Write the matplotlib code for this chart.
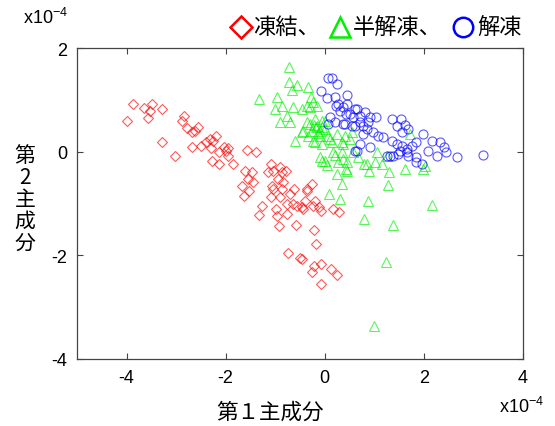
import matplotlib
matplotlib.use("Agg")
import matplotlib.pyplot as plt
from matplotlib.lines import Line2D

plt.rcParams['font.family'] = ['Liberation Sans', 'Noto Sans CJK JP', 'DejaVu Sans']
plt.rcParams['axes.unicode_minus'] = False
plt.rcParams['mathtext.default'] = 'regular'

# values, in units of 1e-4
frozen_x = [-3.87, -3.99, -3.65, -3.49, -3.53, -3.57, -3.29, -2.84, -2.88, -2.78,
            -2.56, -2.68, -2.62, -3.29, -3.02, -2.68, -2.50, -2.40, -2.32, -2.20,
            -2.26, -2.30, -2.14, -2.04, -1.96, -2.00, -2.28, -2.14, -1.96, -1.85,
            -1.57, -1.39, -1.61, -1.47, -1.55, -1.45, -1.67, -1.53, -1.63, -1.09,
            -1.15, -1.05, -0.91, -0.87, -0.79, -0.95, -0.85, -1.07, -1.05, -0.87,
            -0.63, -0.71, -1.09, -0.91, -0.77, -0.65, -0.56, -0.46, -0.40, -0.36,
            -0.26, -0.36, -0.20, -0.24, -0.12, -0.08, -1.27, -1.33, -0.99, -0.97,
            -0.93, -0.77, -0.58, -0.22, -0.18, -0.75, -0.50, -0.22, -0.08, -0.26,
            0.12, 0.24, -0.08, -0.44, 0.16, 0.28, -0.46]
frozen_y = [0.92, 0.59, 0.84, 0.92, 0.78, 0.65, 0.82, 0.69, 0.59, 0.46,
            0.47, 0.38, 0.40, 0.19, -0.08, 0.09, 0.11, 0.19, 0.24, 0.30,
            0.20, 0.07, -0.01, 0.09, 0.07, 0.01, -0.18, -0.24, -0.08, -0.24,
            0.03, -0.01, -0.37, -0.39, -0.53, -0.59, -0.66, -0.76, -0.86, -0.24,
            -0.39, -0.37, -0.30, -0.39, -0.37, -0.53, -0.59, -0.66, -0.72, -0.72,
            -0.72, -0.82, -0.88, -0.88, -1.01, -1.01, -1.05, -1.07, -0.95, -0.76,
            -0.63, -0.72, -0.95, -1.05, -1.07, -1.14, -1.05, -1.22, -1.11, -1.24,
            -1.44, -1.20, -1.42, -1.52, -1.79, -1.95, -2.06, -2.21, -2.17, -2.32,
            -2.27, -2.38, -2.56, -1.11, -1.11, -1.16, -2.07]

half_x = [-0.73, -0.73, -0.56, -0.67, -0.34, -1.33, -0.97, -0.87, -1.01, -0.65,
          -0.46, -0.36, -0.28, -0.24, -0.16, -0.30, -0.77, -0.71, -0.91, -0.36,
          -0.20, -0.06, -0.16, -0.26, -0.10, 0.00, -0.46, -0.34, -0.10, 0.06,
          0.24, -0.60, -0.24, -0.06, 0.14, 0.34, 0.40, 0.54, -0.10, 0.16,
          0.34, 0.36, 0.67, 0.00, 0.00, 0.10, 0.36, 0.50, 0.56, 0.26,
          0.44, 0.85, 1.01, 1.25, 1.61, 1.71, 2.02, 0.04, 0.24, 0.44,
          0.79, 0.89, 1.15, 1.29, 0.34, 0.08, 0.30, 0.87, 1.27, 2.16,
          0.79, 1.37, 1.23, 0.99, 1.05, 1.98, -0.44, -0.20, 0.20, 0.42,
          -0.06, -0.18, -0.14, -0.06, -0.22, -0.30]
half_y = [1.63, 1.34, 1.29, 1.19, 1.25, 1.02, 1.05, 0.88, 0.82, 0.86,
          0.82, 0.88, 1.05, 0.96, 0.88, 0.86, 0.69, 0.57, 0.57, 0.57,
          0.63, 0.59, 0.49, 0.40, 0.40, 0.44, 0.38, 0.30, 0.30, 0.30,
          0.34, 0.20, 0.20, 0.15, 0.19, 0.19, 0.30, 0.38, -0.10, -0.01,
          -0.01, -0.14, -0.10, -0.18, 0.59, 0.24, 0.15, 0.24, -0.01, -0.20,
          -0.20, -0.24, -0.20, -0.08, -0.34, 0.34, -0.28, -0.26, -0.43, -0.37,
          -0.24, -0.37, -0.24, -0.39, -0.63, -0.82, -0.92, -0.95, -0.64, -1.03,
          -1.30, -1.42, -2.13, -3.37, -0.01, -0.34, 0.40, 0.18, -0.07, -0.34,
          -0.18, 0.47, 0.36, 0.47, 0.51, 0.53]

thawed_x = [0.06, 0.14, 0.24, -0.08, 0.04, 0.20, 0.44, 0.26, 0.44, 0.60,
            0.30, 0.50, 0.71, 0.81, 0.10, 0.20, 0.06, 0.36, 0.60, 0.77,
            0.87, 0.77, 0.60, 0.71, 0.36, 0.65, 0.42, 0.56, 0.91, 1.03,
            0.40, 0.54, 0.71, 0.85, 0.97, 1.07, 1.17, 0.65, 0.91, 1.35,
            1.53, 1.45, 1.61, 1.67, 1.55, 1.35, 1.45, 1.55, 1.65, 1.75,
            1.85, 1.98, 2.16, 2.32, 2.40, 2.08, 2.26, 2.44, 2.66, 1.85,
            1.96, 1.31, 1.25, 1.47, 1.65, 1.37, 1.51, 1.67, 1.85, 3.19,
            0.22]
thawed_y = [1.42, 1.42, 1.31, 1.17, 1.03, 1.05, 1.09, 0.92, 0.92, 0.82,
            0.78, 0.73, 0.69, 0.76, 0.67, 0.57, 0.53, 0.53, 0.49, 0.49,
            0.57, 0.34, 0.01, 0.15, 0.86, 0.82, 0.73, 0.67, 0.67, 0.67,
            0.53, 0.49, 0.57, 0.44, 0.38, 0.30, 0.28, 0.01, 0.09, 0.63,
            0.63, 0.49, 0.51, 0.44, 0.38, 0.20, 0.15, 0.11, 0.05, 0.11,
            0.19, 0.34, 0.20, 0.19, 0.09, 0.01, -0.08, -0.01, -0.10, -0.10,
            -0.24, -0.08, -0.08, -0.05, -0.01, -0.08, 0.01, -0.08, -0.20, -0.07,
            0.88]

x_ticks = [-4, -2, 0, 2, 4]
y_ticks = [-4, -2, 0, 2]
legend_labels = ['凍結、', '半解凍、', '解凍']

W, H = 555, 427
fig = plt.figure(figsize=(W / 100, H / 100), dpi=100)
ax = fig.add_axes([77 / W, 1 - 360 / H, 446 / W, 311 / H])

mk = dict(linestyle='none', mfc='none', alpha=0.65, mew=0.8)
ax.plot(frozen_x, frozen_y, marker='D', ms=4.8, mec='#ff0000', **mk)
ax.plot(half_x, half_y, marker='^', ms=6.5, mec='#00f000', **mk)
ax.plot(thawed_x, thawed_y, marker='o', ms=6.5, mec='#0000ff', **mk)

ax.set_xlim(-5, 4)
ax.set_ylim(-4, 2)
ax.set_xticks(x_ticks)
ax.set_yticks(y_ticks)
ax.tick_params(direction='in', top=True, right=True, length=4, width=0.8,
               labelsize=13, pad=7, color='#444444')
for s in ax.spines.values():
    s.set_color('#444444')
    s.set_linewidth(0.9)

cjk = ['Noto Sans CJK JP', 'DejaVu Sans']
fig.text(270 / W, 1 - 413 / H, '第１主成分', family=cjk, fontsize=15.5,
         ha='center', va='center')
fig.text(25 / W, 1 - 200 / H, '第\n2\n主\n成\n分', family=cjk, fontsize=15,
         ha='center', va='center', linespacing=1.0)
fig.text(522 / W, 1 - 407 / H, 'x10$^{-4}$', fontsize=13, ha='center', va='center')
fig.text(46 / W, 1 - 18 / H, 'x10$^{-4}$', fontsize=13, ha='center', va='center')

# legend drawn along the top edge
handles = [('D', 11, '#ff0000', 241), ('^', 14, '#00ee00', 340), ('o', 14, '#0000ff', 463)]
text_left = [253, 353, 477]
for (m, size, c, px), lab, tx in zip(handles, legend_labels, text_left):
    fig.add_artist(Line2D([px / W], [1 - 28 / H], marker=m, ms=size, mfc='none',
                          mec=c, mew=1.8, linestyle='none', transform=fig.transFigure))
    fig.text(tx / W, 1 - 27 / H, lab, family=cjk, fontsize=16, ha='left', va='center')

fig.savefig('out.png', dpi=100)
